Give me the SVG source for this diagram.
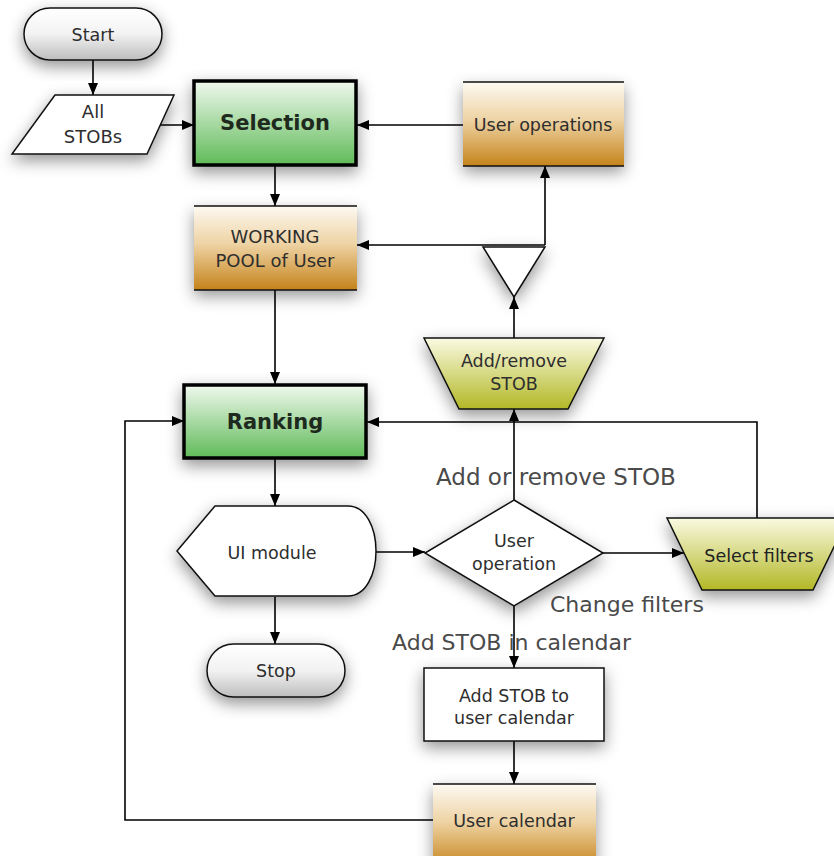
<svg xmlns="http://www.w3.org/2000/svg" width="834" height="856" viewBox="0 0 834 856">
<defs>
  <linearGradient id="gGray" x1="0" y1="0" x2="0" y2="1">
    <stop offset="0" stop-color="#ffffff"/><stop offset="0.5" stop-color="#f2f2f2"/><stop offset="1" stop-color="#bdbdbd"/>
  </linearGradient>
  <linearGradient id="gGreen" x1="0" y1="0" x2="0" y2="1">
    <stop offset="0" stop-color="#f0f9ee"/><stop offset="1" stop-color="#5fba58"/>
  </linearGradient>
  <linearGradient id="gOrange" x1="0" y1="0" x2="0" y2="1">
    <stop offset="0" stop-color="#fdf9f2"/><stop offset="0.45" stop-color="#eed3a4"/><stop offset="1" stop-color="#c5831a"/>
  </linearGradient>
  <linearGradient id="gYellow" x1="0" y1="0" x2="0" y2="1">
    <stop offset="0" stop-color="#fafae2"/><stop offset="1" stop-color="#b3b826"/>
  </linearGradient>
  <filter id="sh" x="-30%" y="-30%" width="160%" height="170%">
    <feDropShadow dx="0" dy="6" stdDeviation="8" flood-color="#000" flood-opacity="0.42"/>
  </filter>
  <marker id="ah" markerUnits="userSpaceOnUse" markerWidth="14" markerHeight="12" refX="12" refY="5.5" orient="auto">
    <path d="M0,0.5 L12,5.5 L0,10.5 Z" fill="#000"/>
  </marker>
</defs>
<style>
  .t { font-family: "DejaVu Sans", "Liberation Sans", sans-serif; font-size: 17.5px; fill: #2e2e2e; text-anchor: middle; }
  .b { font-weight: bold; font-size: 21px; fill: #1e2a1e; }
  .lbl { font-family: "DejaVu Sans", "Liberation Sans", sans-serif; font-size: 22px; fill: #4a4a4a; }
  .c { fill: none; stroke: #000; stroke-width: 1.6; marker-end: url(#ah); }
  .o { stroke: #111; stroke-width: 1.5; }
</style>

<g id="connectors">
  <path class="c" d="M93,60 V95"/>
  <path class="c" d="M159,125 H194"/>
  <path class="c" d="M463,125 H357"/>
  <path class="c" d="M275,166 V206"/>
  <path class="c" d="M545,245 V166"/>
  <path class="c" d="M545,245 H357"/>
  <path class="c" d="M514,338 V297"/>
  <path class="c" d="M275,290 V384"/>
  <path class="c" d="M514,500 V409"/>
  <path class="c" d="M757,518 V422 H367"/>
  <path class="c" d="M433,820 H125 V421 H184"/>
  <path class="c" d="M275,458 V506"/>
  <path class="c" d="M275,597 V644"/>
  <path class="c" d="M376,552 H425"/>
  <path class="c" d="M603,553 H684"/>
  <path class="c" d="M514,606 V668"/>
  <path class="c" d="M514,741 V784"/>
</g>

<g id="start">
  <rect x="24" y="8" width="138" height="52" rx="26" fill="url(#gGray)" stroke="#111" stroke-width="1.5" filter="url(#sh)"/>
  <text class="t" x="93" y="41">Start</text>
</g>

<g id="all-stobs">
  <polygon points="55,95 174,95 147,154 12,154" fill="#fff" stroke="#111" stroke-width="1.5" filter="url(#sh)"/>
  <text class="t" x="93" y="118" style="font-size:18px">All</text>
  <text class="t" x="93" y="143" style="font-size:18px">STOBs</text>
</g>

<g id="selection">
  <rect x="194" y="81" width="162" height="84" fill="url(#gGreen)" stroke="#000" stroke-width="3.5" filter="url(#sh)"/>
  <text class="t b" x="275" y="130">Selection</text>
</g>

<g id="user-operations">
  <rect x="463" y="82" width="161" height="84" fill="url(#gOrange)" filter="url(#sh)"/>
  <path class="o" d="M463,82 H624 M463,166 H624"/>
  <text class="t" x="543" y="131">User operations</text>
</g>

<g id="working-pool">
  <rect x="194" y="206" width="163" height="84" fill="url(#gOrange)" filter="url(#sh)"/>
  <path class="o" d="M194,206 H357 M194,290 H357"/>
  <text class="t" x="275" y="243" style="font-size:18px">WORKING</text>
  <text class="t" x="275" y="267" style="font-size:18px">POOL of User</text>
</g>

<g id="merge">
  <polygon points="483,247 545,247 514,297" fill="#fff" stroke="#111" stroke-width="1.5" filter="url(#sh)"/>
</g>

<g id="add-remove-stob">
  <polygon points="424,338 604,338 568,409 459,409" fill="url(#gYellow)" stroke="#111" stroke-width="1.5" filter="url(#sh)"/>
  <text class="t" x="514" y="367">Add/remove</text>
  <text class="t" x="514" y="390">STOB</text>
</g>

<g id="ranking">
  <rect x="184" y="385" width="182" height="73" fill="url(#gGreen)" stroke="#000" stroke-width="3.5" filter="url(#sh)"/>
  <text class="t b" x="275" y="429">Ranking</text>
</g>

<g id="ui-module">
  <path d="M215,506 H348 C366,506 376,528 376,551 C376,574 366,596 348,596 H215 L177,551 Z" fill="#fff" stroke="#111" stroke-width="1.5" filter="url(#sh)"/>
  <text class="t" x="272" y="559">UI module</text>
</g>

<g id="stop">
  <rect x="207" y="644" width="138" height="53" rx="26.5" fill="url(#gGray)" stroke="#111" stroke-width="1.5" filter="url(#sh)"/>
  <text class="t" x="276" y="677">Stop</text>
</g>

<g id="user-operation">
  <polygon points="514,500 603,553 514,606 425,553" fill="#fff" stroke="#111" stroke-width="1.5" filter="url(#sh)"/>
  <text class="t" x="514" y="547">User</text>
  <text class="t" x="514" y="570">operation</text>
</g>

<g id="select-filters">
  <polygon points="667,518 848,518 813,590 702,590" fill="url(#gYellow)" stroke="#111" stroke-width="1.5" filter="url(#sh)"/>
  <text class="t" x="759" y="562" style="fill:#222">Select filters</text>
</g>

<g id="add-stob-calendar">
  <rect x="424" y="668" width="180" height="73" fill="#fff" stroke="#111" stroke-width="1.5" filter="url(#sh)"/>
  <text class="t" x="514" y="702">Add STOB to</text>
  <text class="t" x="514" y="724">user calendar</text>
</g>

<g id="user-calendar">
  <rect x="433" y="784" width="163" height="84" fill="url(#gOrange)" filter="url(#sh)"/>
  <path class="o" d="M433,784 H596"/>
  <text class="t" x="514" y="827">User calendar</text>
</g>

<g id="labels">
  <text class="lbl" x="436" y="485" style="font-size:23px">Add or remove STOB</text>
  <text class="lbl" x="550" y="612">Change filters</text>
  <text class="lbl" x="392" y="650">Add STOB in calendar</text>
</g>
</svg>
